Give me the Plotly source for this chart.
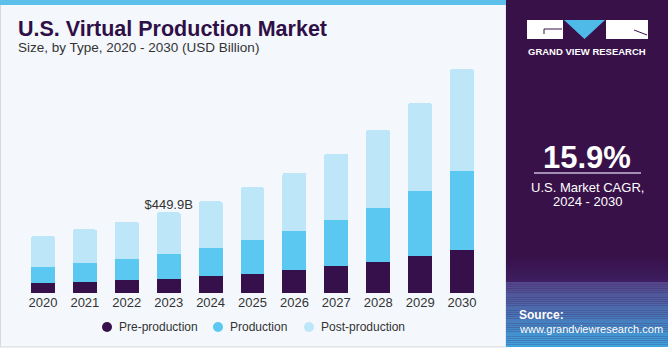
import plotly.graph_objects as go

years = ["2020", "2021", "2022", "2023", "2024", "2025", "2026", "2027", "2028", "2029", "2030"]
pre_production = [55.8, 61.3, 70.8, 79.7, 93.1, 107.6, 126.0, 148.3, 172.8, 206.3, 241.4]
production = [90.9, 105.9, 118.7, 139.4, 157.8, 189.6, 217.4, 256.5, 302.7, 362.4, 440.4]
post_production = [171.2, 187.9, 208.0, 230.8, 260.4, 291.6, 325.6, 373.5, 433.2, 490.6, 567.0]
series_names = ["Pre-production", "Production", "Post-production"]
series_colors = ["#36104A", "#5BC8F2", "#BDE7F9"]
highlight_year = "2023"
highlight_label = "$449.9B"

W, H = 671, 350
L, R, T, B = 22, 188, 60, 57
PW, PH = W - L - R, H - T - B
FONT = "Liberation Sans, Arial, sans-serif"


def px(x):
    return (x - L) / PW


def py(y):
    return (H - B - y) / PH


fig = go.Figure()
for name, vals, col in zip(series_names, [pre_production, production, post_production], series_colors):
    fig.add_trace(go.Bar(x=years, y=vals, name=name, marker=dict(color=col, line=dict(width=0)),
                         width=0.57, showlegend=False))

hi = years.index(highlight_year)
total_hi = pre_production[hi] + production[hi] + post_production[hi]
fig.add_trace(go.Scatter(x=[highlight_year], y=[total_hi], mode="text", text=[highlight_label],
                         textposition="top center", showlegend=False, hoverinfo="skip",
                         textfont=dict(size=13, color="#333333", family=FONT)))

shapes = []
shapes.append(dict(type="rect", xref="paper", yref="paper", x0=px(0.5), x1=px(506), y0=py(347), y1=py(2),
                   fillcolor="#F4F8FC", line=dict(color="#D5D9DE", width=1), layer="below"))
shapes.append(dict(type="rect", xref="paper", yref="paper", x0=px(0), x1=px(506), y0=py(5), y1=py(0),
                   fillcolor="#5CC0EA", line=dict(width=0), layer="below"))
shapes.append(dict(type="rect", xref="paper", yref="paper", x0=px(506), x1=px(668), y0=py(347), y1=py(0),
                   fillcolor="#381149", line=dict(width=0), layer="below"))


def lerp(c1, c2, t):
    a = [int(c1[i:i + 2], 16) for i in (1, 3, 5)]
    b = [int(c2[i:i + 2], 16) for i in (1, 3, 5)]
    return "#%02x%02x%02x" % tuple(int(round(a[k] + (b[k] - a[k]) * t)) for k in range(3))


n = 14
for i in range(n):
    y0 = 255 + i * (282 - 255) / n
    y1 = 255 + (i + 1) * (282 - 255) / n
    shapes.append(dict(type="rect", xref="paper", yref="paper", x0=px(506), x1=px(668), y0=py(y1), y1=py(y0),
                       fillcolor=lerp("#381149", "#3F1F62", i / (n - 1)), line=dict(width=0), layer="below"))
n = 30
for i in range(n):
    y0 = 282 + i * (347 - 282) / n
    y1 = 282 + (i + 1) * (347 - 282) / n
    shapes.append(dict(type="rect", xref="paper", yref="paper", x0=px(506), x1=px(668), y0=py(y1), y1=py(y0),
                       fillcolor=lerp("#54468C", "#3FA3DF", i / (n - 1)), line=dict(width=0), layer="below"))

# logo
shapes.append(dict(type="rect", xref="paper", yref="paper", x0=px(527), x1=px(563), y0=py(39), y1=py(20),
                   fillcolor="white", line=dict(width=0)))
shapes.append(dict(type="rect", xref="paper", yref="paper", x0=px(606), x1=px(648), y0=py(39), y1=py(20),
                   fillcolor="white", line=dict(width=0)))
shapes.append(dict(type="path", xref="paper", yref="paper",
                   path="M %f,%f L %f,%f L %f,%f Z" % (px(564), py(20), px(605), py(20), px(584.5), py(39)),
                   fillcolor="#4FB9E8", line=dict(width=0)))
shapes.append(dict(type="path", xref="paper", yref="paper",
                   path="M %f,%f L %f,%f L %f,%f" % (px(562), py(29), px(544), py(29), px(544), py(34)),
                   line=dict(color="#381149", width=1)))
shapes.append(dict(type="line", xref="paper", yref="paper", x0=px(634), x1=px(647), y0=py(30), y1=py(35),
                   line=dict(color="#381149", width=1)))
shapes.append(dict(type="line", xref="paper", yref="paper", x0=px(534), x1=px(641), y0=py(173), y1=py(173),
                   line=dict(color="#C9B8DA", width=1.5)))

annotations = []


def add_text(x, y, text, size, color, bold=False, xanchor="left"):
    annotations.append(dict(xref="paper", yref="paper", x=px(x), y=py(y), text=("<b>%s</b>" % text) if bold else text,
                            showarrow=False, xanchor=xanchor, yanchor="middle",
                            font=dict(size=size, color=color, family=FONT)))


add_text(16, 29, "U.S. Virtual Production Market", 21.5, "#2E0F46", bold=True)
add_text(16, 47, "Size, by Type, 2020 - 2030 (USD Billion)", 13.5, "#333333")
add_text(587, 51, "GRAND VIEW RESEARCH", 9.5, "white", bold=True, xanchor="center")
add_text(587, 157, "15.9%", 31, "white", bold=True, xanchor="center")
add_text(587, 187, "U.S. Market CAGR,", 13, "white", xanchor="center")
add_text(587, 201, "2024 - 2030", 13, "white", xanchor="center")
add_text(517, 315, "Source:", 12, "white", bold=True)
add_text(517, 329, "www.grandviewresearch.com", 11, "white")

legend_x = [107, 218, 309]
for lx, name, col in zip(legend_x, series_names, series_colors):
    shapes.append(dict(type="circle", xref="paper", yref="paper", x0=px(lx - 5), x1=px(lx + 5),
                       y0=py(332), y1=py(322), fillcolor=col, line=dict(width=0)))
    add_text(lx + 10, 327, name, 12, "#333333")

fig.update_layout(
    width=W, height=H,
    margin=dict(l=L, r=R, t=T, b=B),
    barmode="stack",
    barcornerradius=2,
    paper_bgcolor="white",
    plot_bgcolor="rgba(0,0,0,0)",
    shapes=shapes,
    annotations=annotations,
    showlegend=False,
    xaxis=dict(type="category", range=[-0.5, 10.5], showgrid=False, showline=False, zeroline=False, ticks="",
               tickfont=dict(size=13, color="#333333", family=FONT)),
    yaxis=dict(range=[0, 1300], visible=False, fixedrange=True),
)

fig.write_html("out.html")
